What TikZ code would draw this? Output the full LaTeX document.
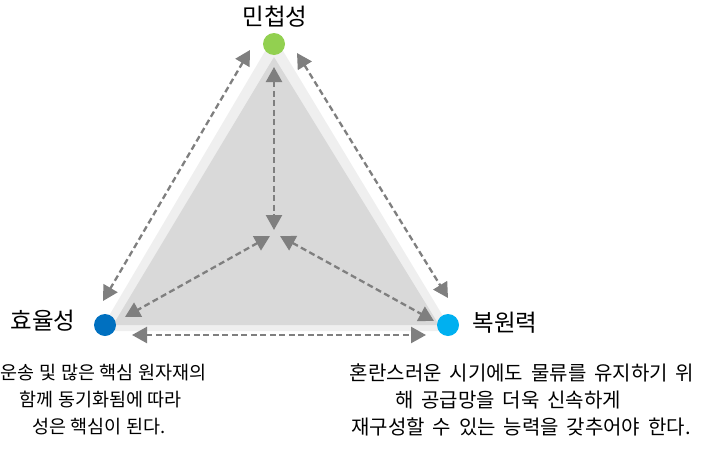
\documentclass[tikz,border=0pt]{standalone}
\usepackage{fontspec}
\setmainfont{Noto Sans CJK KR}[WordSpace=1.75]
\usetikzlibrary{arrows.meta}
\definecolor{arr}{HTML}{7F7F7F}
\definecolor{band}{HTML}{EFEFEF}
\definecolor{inner}{HTML}{D9D9D9}
\definecolor{cgreen}{HTML}{92D050}
\definecolor{cdblue}{HTML}{0070C0}
\definecolor{clblue}{HTML}{00B0F0}
\newcommand{\narrowsp}{\spaceskip=0.25em\relax}
\begin{document}
\begin{tikzpicture}[x=1pt,y=-1pt,
  dot/.style={circle,inner sep=0,minimum size=22pt},
  lbl/.style={font=\fontsize{23.5}{28}\selectfont,inner sep=0},
  body/.style={font=\fontsize{20}{24}\selectfont,inner sep=0},
  lbody/.style={font=\fontsize{18.5}{22}\selectfont\narrowsp,inner sep=0},
  conn/.style={draw=arr,line width=2.3pt,dash pattern=on 6pt off 3.5pt,
    {Triangle[length=15pt,width=16pt]}-{Triangle[length=15pt,width=16pt]}}]
\useasboundingbox (0,0) rectangle (709,450);
% triangles
\fill[band] (274,36) -- (100,331) -- (452,331) -- cycle;
\fill[inner] (274,57) -- (113,325) -- (439,325) -- cycle;
% connector end points
\coordinate (lt) at (250,50);
\coordinate (lb) at (103,301);
\coordinate (rt) at (297,53);
\coordinate (rb) at (448,298);
\coordinate (bl) at (132,335);
\coordinate (br) at (426,335);
\coordinate (vt) at (274,67);
\coordinate (vb) at (274,230);
\coordinate (sl1) at (270,236);
\coordinate (sl2) at (125,317);
\coordinate (sr1) at (280,236);
\coordinate (sr2) at (434,321);
\draw[conn] (lt) -- (lb);
\draw[conn] (rt) -- (rb);
\draw[conn] (bl) -- (br);
\draw[conn] (vt) -- (vb);
\draw[conn] (sl1) -- (sl2);
\draw[conn] (sr1) -- (sr2);
% dots
\node[dot,fill=cgreen] (top) at (274,44) {};
\node[dot,fill=cdblue] (left) at (105,325) {};
\node[dot,fill=clblue] (right) at (448,325) {};
% labels
\node[lbl] (ltop) at (275,17) {민첩성};
\node[lbl] (lleft) at (43,321) {효율성};
\node[lbl] (lright) at (505,323) {복원력};
% texts
\node[lbody,anchor=west] (a1) at (0.5,373) {운송 및 많은 핵심 원자재의};
\node[lbody,anchor=east] (a2) at (182,400) {함께 동기화됨에 따라};
\node[lbody,anchor=east] (a3) at (166,427) {성은 핵심이 된다.};
\node[body] (b1) at (522,373) {혼란스러운 시기에도 물류를 유지하기 위};
\node[body] (b2) at (508,400) {해 공급망을 더욱 신속하게};
\node[body] (b3) at (521,427) {재구성할 수 있는 능력을 갖추어야 한다.};
\end{tikzpicture}
\end{document}
